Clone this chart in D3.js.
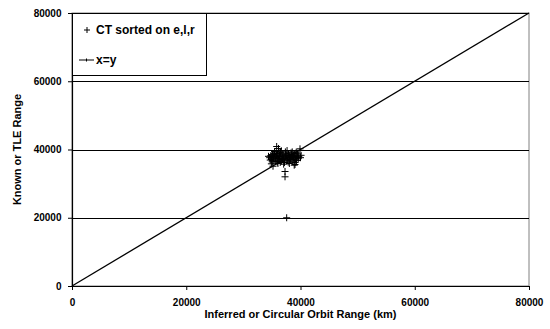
<!DOCTYPE html>
<html>
<head>
<meta charset="utf-8">
<script src="https://cdn.jsdelivr.net/npm/d3@7"></script>
<style>
  html, body { margin: 0; padding: 0; background: #fff; }
  svg { display: block; font-family: "Liberation Sans", Arial, sans-serif; font-weight: bold; }
</style>
</head>
<body>
<svg id="chart" width="550" height="329"></svg>
<script>
// Axis tick values (km)
const xTicks = [0, 20000, 40000, 60000, 80000];
const yTicks = [0, 20000, 40000, 60000, 80000];

// Series names
const seriesNames = ["CT sorted on e,l,r", "x=y"];

// CT sorted on e,l,r : [inferred range, known range]
const ctPoints = [
  [34600,37600],[34800,38200],[34900,37100],[35000,37900],[35100,38500],[35200,36800],
  [35300,37400],[35400,38100],[35500,39000],[35600,37700],[35700,36500],[35800,38400],
  [35830,40880],[35900,37200],[36000,38800],[36100,37900],[36200,36900],[36300,38300],
  [36400,37500],[36500,39200],[36600,38000],[36700,36600],[36800,37800],[36900,38600],
  [37000,37300],[37100,38100],[37200,36200],[37300,37700],[37400,38900],[37500,37000],
  [37600,38300],[37700,36700],[37800,37900],[37900,38700],[38000,37400],[38100,38200],
  [38200,36900],[38300,37600],[38400,38500],[38500,37100],[38600,37900],[38700,36400],
  [38800,38300],[38900,37500],[39000,38800],[39100,37200],[39200,38000],[39300,36800],
  [39400,37700],[39500,38400],[39600,37300],[39700,37900],[39912,40200],[39036,35600],
  [35186,35100],[37290,33550],[37290,32000],[37580,20000],
  [35050,36400],[35450,39400],[36050,35900],[36650,39600],[37050,35700],[37650,39700],
  [38050,35900],[38550,39300],[39050,36200],[39550,38900],[36250,37400],[36850,37100],
  [37450,38400],[38150,37000],[38750,37800],[35350,38800],[35950,36300],[36450,36200],
  [37850,36300],[39250,39200],[34700,36900],[40000,37600],[40100,38300],[34400,38000],
  [36350,39000],[37350,39300],[38350,39000],[36150,40300],[34900,35800],[38900,35400]
];

// x=y reference line endpoints
const identityLine = [[0,0],[80000,80000]];

const svg = d3.select("#chart");
const plotLeft = 72, plotRight = 529, plotTop = 13, plotBottom = 286;

const x = d3.scaleLinear().domain([0, 80000]).range([plotLeft, plotRight]);
const y = d3.scaleLinear().domain([0, 80000]).range([plotBottom, plotTop]);

// plot area frame
svg.append("rect")
  .attr("x", plotLeft).attr("y", plotTop)
  .attr("width", plotRight - plotLeft).attr("height", plotBottom - plotTop)
  .attr("fill", "#fff").attr("stroke", "#808080").attr("stroke-width", 1);

// horizontal gridlines
svg.append("g")
  .selectAll("line")
  .data(yTicks.filter(d => d > 0))
  .join("line")
  .attr("x1", plotLeft).attr("x2", plotRight)
  .attr("y1", d => Math.round(y(d)) + 0.5).attr("y2", d => Math.round(y(d)) + 0.5)
  .attr("stroke", "#000").attr("stroke-width", 1);

// axes
const xAxis = svg.append("g")
  .attr("transform", `translate(0,${plotBottom})`)
  .call(d3.axisBottom(x).tickValues(xTicks).tickFormat(d3.format("d")).tickSize(4).tickSizeOuter(0));
const yAxis = svg.append("g")
  .attr("transform", `translate(${plotLeft},0)`)
  .call(d3.axisLeft(y).tickValues(yTicks).tickFormat(d3.format("d")).tickSize(4).tickSizeOuter(0));

[xAxis, yAxis].forEach(g => {
  g.select(".domain").attr("stroke", "#000").attr("stroke-width", 1.2);
  g.selectAll(".tick line").attr("stroke", "#000");
  g.selectAll("text")
    .attr("font-family", "'Liberation Sans', Arial, sans-serif")
    .attr("font-weight", "bold").attr("font-size", 10).attr("fill", "#000");
});
xAxis.selectAll("text").attr("dy", "1.3em");
yAxis.selectAll("text").attr("dx", "-0.35em");

// x=y line
svg.append("path")
  .datum(identityLine)
  .attr("d", d3.line().x(d => x(d[0])).y(d => y(d[1])))
  .attr("fill", "none").attr("stroke", "#000").attr("stroke-width", 1.3);

// plus markers
const plus = (cx, cy, s) => `M${cx - s},${cy}H${cx + s}M${cx},${cy - s}V${cy + s}`;
svg.append("g")
  .selectAll("path")
  .data(ctPoints)
  .join("path")
  .attr("d", d => plus(x(d[0]), y(d[1]), 3.5))
  .attr("stroke", "#000").attr("stroke-width", 1).attr("fill", "none");

// axis titles
svg.append("text")
  .attr("x", (plotLeft + plotRight) / 2).attr("y", 318)
  .attr("text-anchor", "middle").attr("font-size", 11)
  .text("Inferred or Circular Orbit Range (km)");
svg.append("text")
  .attr("transform", `translate(21,${(plotTop + plotBottom) / 2}) rotate(-90)`)
  .attr("text-anchor", "middle").attr("font-size", 11)
  .text("Known or TLE Range");

// legend
const lg = svg.append("g");
lg.append("rect")
  .attr("x", plotLeft + 0.5).attr("y", plotTop + 0.5)
  .attr("width", 134).attr("height", 62)
  .attr("fill", "#fff").attr("stroke", "#000").attr("stroke-width", 1);
lg.append("path").attr("d", plus(87, 30, 3)).attr("stroke", "#000").attr("fill", "none");
lg.append("text").attr("x", 96).attr("y", 34).attr("font-size", 12).text(seriesNames[0]);
lg.append("path").attr("d", "M79,60H94M86.5,58.5V61.5").attr("stroke", "#000").attr("fill", "none");
lg.append("text").attr("x", 96).attr("y", 64).attr("font-size", 12).text(seriesNames[1]);
</script>
</body>
</html>
